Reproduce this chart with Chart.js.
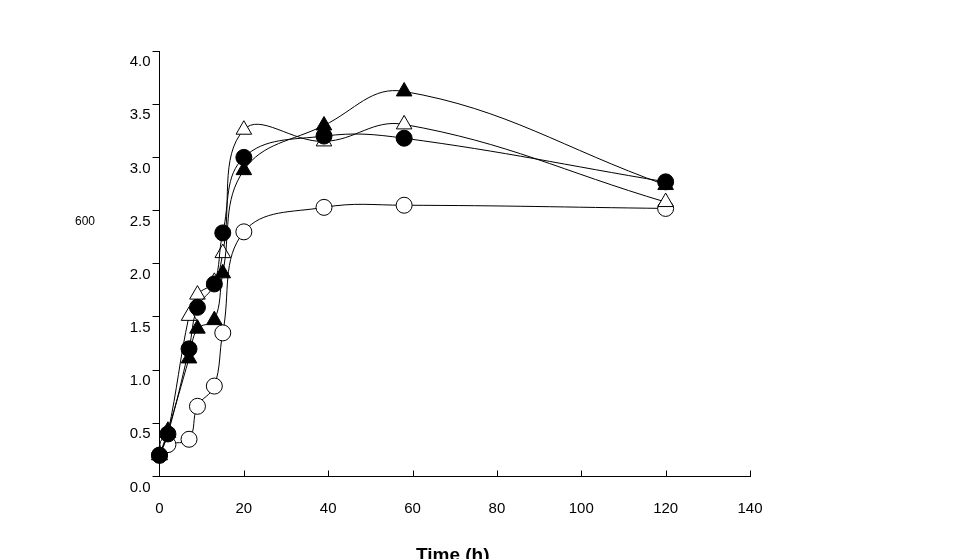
<!DOCTYPE html>
<html><head><meta charset="utf-8">
<script src="https://cdn.jsdelivr.net/npm/chart.js@4/dist/chart.umd.min.js"></script>
<style>html,body{margin:0;padding:0;background:#fff}#wrap{width:964px;height:559px}</style>
</head><body><div id="wrap"><canvas id="c" width="964" height="559"></canvas></div>
<script>
const times = [0, 2, 7, 9, 13, 15, 20, 39, 58, 120];
const openCircle = [0.20, 0.30, 0.35, 0.66, 0.85, 1.35, 2.30, 2.53, 2.55, 2.52];
const filledCircle = [0.20, 0.40, 1.20, 1.59, 1.81, 2.29, 3.00, 3.20, 3.18, 2.77];
const filledTriangle = [0.20, 0.43, 1.11, 1.39, 1.47, 1.91, 2.88, 3.30, 3.62, 2.74];
const openTriangle = [0.20, 0.41, 1.51, 1.71, 1.83, 2.10, 3.26, 3.15, 3.31, 2.58];
const xTicks = [0, 20, 40, 60, 80, 100, 120, 140];
const yTicks = [0, 0.5, 1, 1.5, 2, 2.5, 3, 3.5, 4];
const xTitle = 'Time (h)';
const yTitle = '600';

function pts(vals){ return times.map((t,i)=>({x:t,y:vals[i]})); }
function ds(vals, style, filled, r){
  return {data: pts(vals), borderColor:'#000', borderWidth:1, tension:0.4,
    pointStyle: style, pointRadius: r, pointHoverRadius: r,
    pointBackgroundColor: filled ? '#000' : '#fff', pointBorderColor:'#000', pointBorderWidth:1,
    fill:false, clip:false};
}

const extras = {
  id:'extras',
  afterDraw(chart){
    const ctx = chart.ctx, xs = chart.scales.x, ys = chart.scales.y;
    ctx.save();
    ctx.strokeStyle = '#000'; ctx.lineWidth = 1;
    const yb = ys.getPixelForValue(0);
    xTicks.forEach(v=>{
      if (v === 0) return;
      const px = Math.round(xs.getPixelForValue(v)) + 0.5;
      ctx.beginPath(); ctx.moveTo(px, yb); ctx.lineTo(px, yb - 6); ctx.stroke();
    });
    ctx.fillStyle = '#000';
    ctx.font = '12px "Liberation Sans", Arial, sans-serif';
    ctx.textAlign = 'center'; ctx.textBaseline = 'middle';
    ctx.fillText(yTitle, 85, 222);
    ctx.font = 'bold 19px "Liberation Sans", Arial, sans-serif';
    ctx.fillText(xTitle, (xs.left + xs.right)/2 - 2, 556);
    ctx.restore();
  }
};

new Chart(document.getElementById('c'), {
  type:'line',
  data:{datasets:[ds(filledTriangle,'triangle',true,9), ds(filledCircle,'circle',true,8), ds(openTriangle,'triangle',false,9), ds(openCircle,'circle',false,8)]},
  options:{
    responsive:false, animation:false, devicePixelRatio:1,
    layout:{padding:{left:0, right:214, top:51, bottom:0}},
    plugins:{legend:{display:false}, tooltip:{enabled:false}},
    scales:{
      x:{type:'linear', min:0, max:140,
        afterFit(s){ s.height = 82.5; },
        afterBuildTicks(s){ s.ticks = xTicks.map(v=>({value:v})); },
        border:{display:true, color:'#000', width:1},
        grid:{display:false},
        ticks:{color:'#000', font:{family:'"Liberation Sans", Arial, sans-serif', size:15}, padding:15, maxRotation:0, autoSkip:false}
      },
      y:{type:'linear', min:0, max:4,
        afterFit(s){ s.width = 159.5; },
        afterBuildTicks(s){ s.ticks = yTicks.map(v=>({value:v})); },
        border:{display:true, color:'#000', width:1},
        grid:{display:true, drawOnChartArea:false, drawTicks:true, tickLength:7, color:'#000'},
        ticks:{color:'#000', font:{family:'"Liberation Sans", Arial, sans-serif', size:15}, padding:2, labelOffset:11,
          callback:(v)=>Number(v).toFixed(1)}
      }
    }
  },
  plugins:[extras]
});
</script>
</body></html>
